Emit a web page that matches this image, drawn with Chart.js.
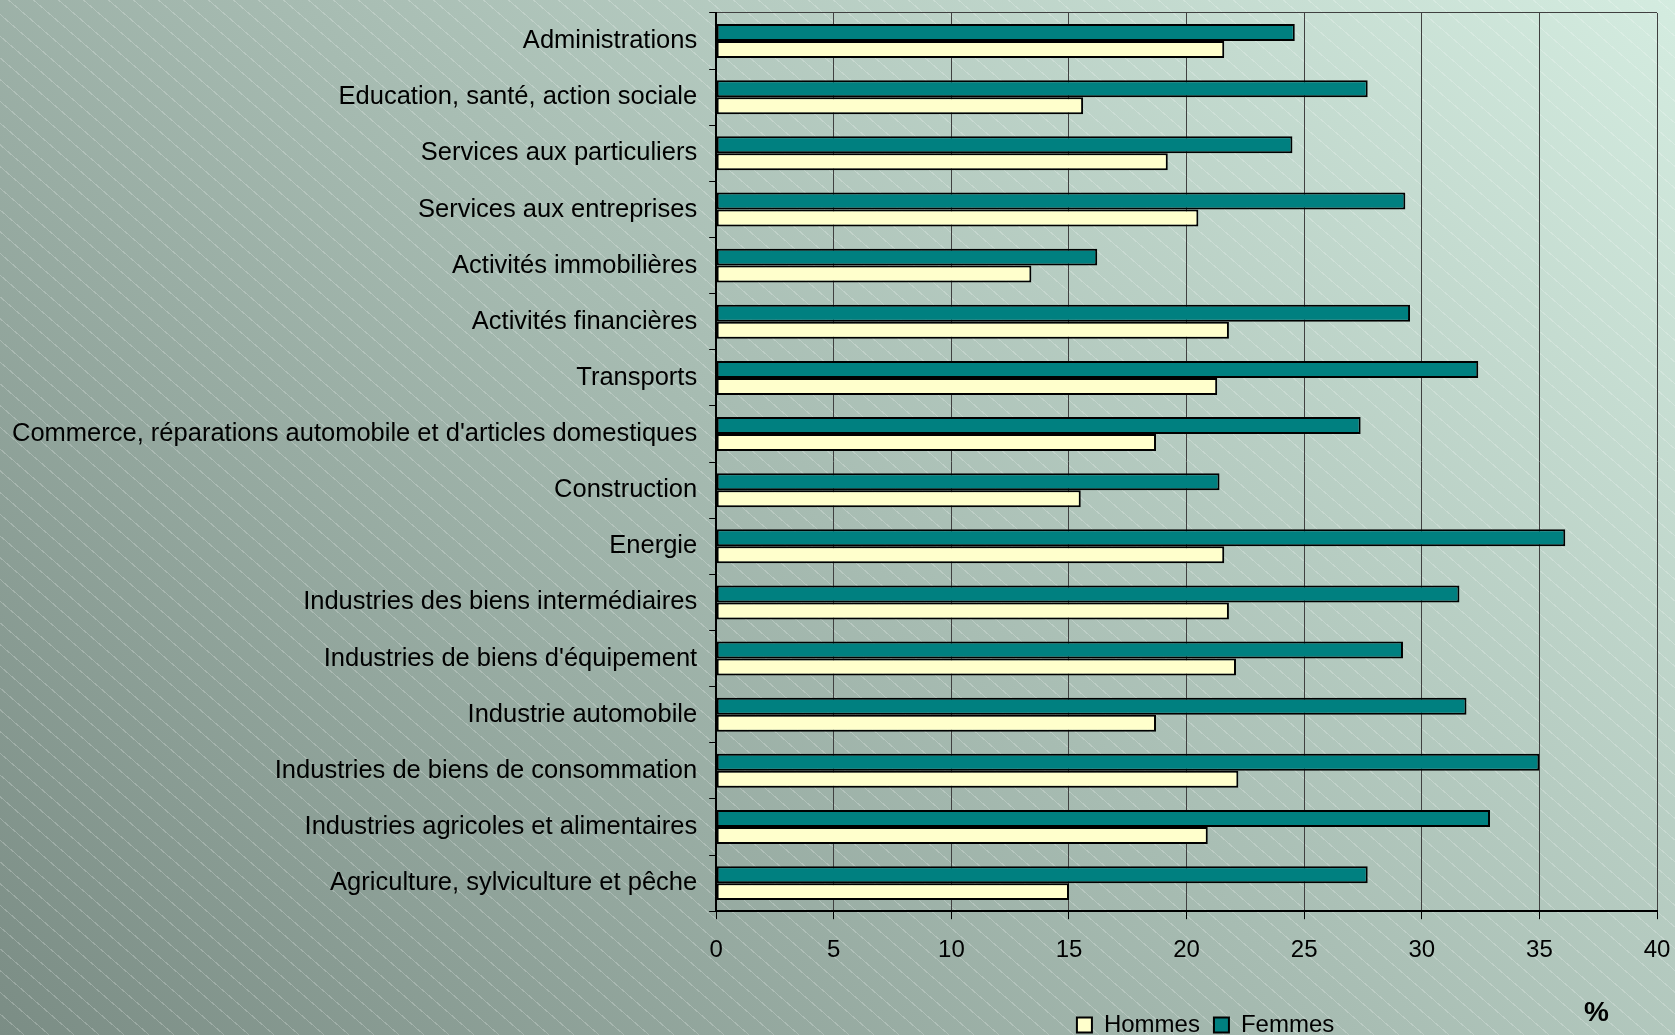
<!DOCTYPE html>
<html lang="fr">
<head>
<meta charset="utf-8">
<title>Hommes / Femmes par secteur</title>
<script src="https://cdn.jsdelivr.net/npm/chart.js@4.4.0/dist/chart.umd.min.js"></script>
<style>
  html, body {
    margin: 0;
    padding: 0;
    width: 1675px;
    height: 1035px;
    overflow: hidden;
  }
  body {
    background:
      repeating-linear-gradient(41deg, rgba(255,255,255,0) 0px, rgba(255,255,255,0) 15.4px, rgba(255,255,255,0.22) 15.4px, rgba(255,255,255,0.22) 16.4px),
      linear-gradient(45deg, #7b8d85 0%, #d4ece0 100%);
  }
  #wrap {
    position: relative;
    width: 1675px;
    height: 1047px;
  }
  #pct {
    position: absolute;
    left: 1584px;
    top: 998px;
    font: bold 28px "Liberation Sans", Arial, sans-serif;
    line-height: 1;
    color: #000;
  }
</style>
</head>
<body>
<div id="wrap">
  <canvas id="chart" width="1675" height="1047"></canvas>
  <div id="pct">%</div>
</div>
<script>
// Secteurs, de haut en bas
const secteurs = [
  "Administrations",
  "Education, santé, action sociale",
  "Services aux particuliers",
  "Services aux entreprises",
  "Activités immobilières",
  "Activités financières",
  "Transports",
  "Commerce, réparations automobile et d'articles domestiques",
  "Construction",
  "Energie",
  "Industries des biens intermédiaires",
  "Industries de biens d'équipement",
  "Industrie automobile",
  "Industries de biens de consommation",
  "Industries agricoles et alimentaires",
  "Agriculture, sylviculture et pêche"
];

// Valeurs en %
const femmes = [24.6, 27.7, 24.5, 29.3, 16.2, 29.5, 32.4, 27.4, 21.4, 36.1, 31.6, 29.2, 31.9, 35.0, 32.9, 27.7];
const hommes = [21.6, 15.6, 19.2, 20.5, 13.4, 21.8, 21.3, 18.7, 15.5, 21.6, 21.8, 22.1, 18.7, 22.2, 20.9, 15.0];

const xMin = 0;
const xMax = 40;
const xStep = 5;

Chart.defaults.font.family = "'Liberation Sans', Arial, sans-serif";
Chart.defaults.color = "#000";

// La légende est un peu décalée vers la droite dans l'original
const decalageLegende = {
  id: "decalageLegende",
  afterLayout(chart) {
    chart.legend.left += 19;
    chart.legend.right += 19;
  }
};

let ctx = document.getElementById("chart").getContext("2d");
let chart = new Chart(ctx, {
  type: "bar",
  data: {
    labels: secteurs,
    datasets: [
      {
        label: "Femmes",
        data: femmes,
        backgroundColor: "#008080",
        borderColor: "#000",
        borderWidth: 2,
        borderSkipped: false,
        categoryPercentage: 0.605,
        barPercentage: 1
      },
      {
        label: "Hommes",
        data: hommes,
        backgroundColor: "#ffffcc",
        borderColor: "#000",
        borderWidth: 2,
        borderSkipped: false,
        categoryPercentage: 0.605,
        barPercentage: 1
      }
    ]
  },
  options: {
    indexAxis: "y",
    responsive: false,
    devicePixelRatio: 1,
    animation: false,
    layout: {
      padding: { top: 0, right: 0, left: 0, bottom: 0 }
    },
    plugins: {
      tooltip: { enabled: false },
      legend: {
        position: "bottom",
        fullSize: false,
        reverse: true,
        labels: {
          font: { size: 24 },
          color: "#000",
          boxWidth: 15,
          boxHeight: 15,
          padding: 14
        }
      }
    },
    scales: {
      x: {
        min: xMin,
        max: xMax,
        ticks: {
          stepSize: xStep,
          font: { size: 24 },
          color: "#000",
          padding: 17
        },
        grid: {
          color: "#404040",
          lineWidth: 1,
          tickLength: 8,
          tickColor: "#000"
        },
        border: { color: "#000", width: 2 },
        afterFit: function (scale) {
          scale.height = scale.height + 17;
          scale.paddingRight = 18;
        }
      },
      y: {
        ticks: {
          font: { size: 25.5 },
          color: "#000",
          padding: 12
        },
        grid: {
          offset: true,
          // seule la ligne du haut est tracée
          color: function (c) {
            return c.index === 0 ? "#404040" : "rgba(0,0,0,0)";
          },
          tickColor: "#000",
          tickLength: 7
        },
        border: { color: "#000", width: 2 },
        afterFit: function (scale) {
          scale.paddingTop = 13;
          scale.paddingBottom = 0;
        }
      }
    }
  },
  plugins: [decalageLegende]
});
</script>
</body>
</html>
